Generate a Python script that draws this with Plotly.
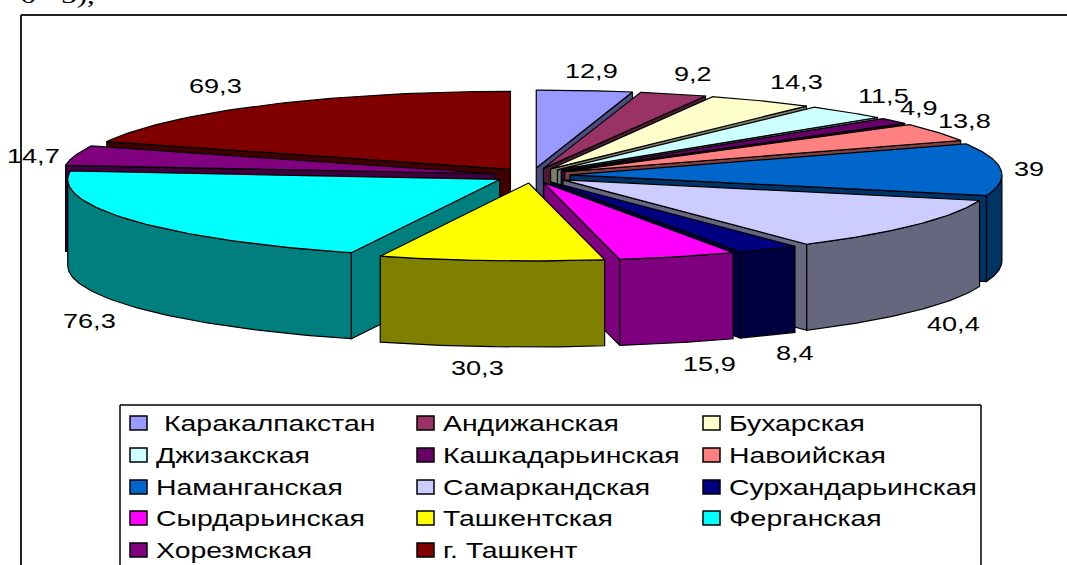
import numpy as np
import plotly.graph_objects as go

regions = ["Каракалпакстан", "Андижанская", "Бухарская", "Джизакская", "Кашкадарьинская", "Навоийская",
           "Наманганская", "Самаркандская", "Сурхандарьинская", "Сырдарьинская", "Ташкентская",
           "Ферганская", "Хорезмская", "г. Ташкент"]
values = [12.9, 9.2, 14.3, 11.5, 4.9, 13.8, 39, 40.4, 8.4, 15.9, 30.3, 76.3, 14.7, 69.3]
value_labels = ["12,9", "9,2", "14,3", "11,5", "4,9", "13,8", "39", "40,4", "8,4", "15,9", "30,3", "76,3", "14,7", "69,3"]
top_colors = ["#9999FF", "#993366", "#FFFFCC", "#CCFFFF", "#660066", "#FF8080", "#0066CC",
              "#CCCCFF", "#000080", "#FF00FF", "#FFFF00", "#00FFFF", "#800080", "#800000"]

# label anchor positions (left edge, middle), picture pixels
label_x = [563, 672, 768, 856, 898, 936, 1012, 925, 774, 681, 449, 61, 5, 187]
label_y = [70, 73, 81, 95, 107, 120, 168, 323, 352, 363, 367, 320, 155, 85]

CX, CY, RX, RY, EX, EY, DEPTH = 532, 175.5, 432, 78, 38, 7.5, 86
FONT = "Liberation Sans"


def shade(c):
    r, g, b = int(c[1:3], 16), int(c[3:5], 16), int(c[5:7], 16)
    return f"rgb({r // 2},{g // 2},{b // 2})"


fig = go.Figure()


def poly(xs, ys, color):
    fig.add_trace(go.Scatter(x=xs, y=ys, mode="lines", fill="toself", fillcolor=color,
                             line=dict(color="black", width=1.2), hoverinfo="skip", showlegend=False))


total = sum(values)
ends = np.cumsum(values) / total * 2 * np.pi
starts = np.concatenate([[0], ends[:-1]])
mids = (starts + ends) / 2

for i in np.argsort(-np.cos(mids)):
    a, b, m = starts[i], ends[i], mids[i]
    ax, ay = CX + EX * np.sin(m), CY - EY * np.cos(m)
    wall = shade(top_colors[i])
    px = lambda t: ax + RX * np.sin(t)
    py = lambda t: ay - RY * np.cos(t)
    if np.sin(a) < -1e-6:
        poly([ax, px(a), px(a), ax, ax], [ay, py(a), py(a) + DEPTH, ay + DEPTH, ay], wall)
    if np.sin(b) > 1e-6:
        poly([ax, px(b), px(b), ax, ax], [ay, py(b), py(b) + DEPTH, ay + DEPTH, ay], wall)
    lo, hi = max(a, np.pi / 2), min(b, 3 * np.pi / 2)
    if hi > lo:
        t = np.linspace(lo, hi, 60)
        poly(np.concatenate([px(t), px(t[::-1]), [px(t[0])]]),
             np.concatenate([py(t), py(t[::-1]) + DEPTH, [py(t[0])]]), wall)
    t = np.linspace(a, b, 60)
    poly(np.concatenate([[ax], px(t), [ax]]), np.concatenate([[ay], py(t), [ay]]), top_colors[i])

annotations = []
for lab, x, y in zip(value_labels, label_x, label_y):
    annotations.append(dict(x=x, y=y, text=lab, showarrow=False, xanchor="left", yanchor="middle",
                            font=dict(family=FONT, size=21, color="black")))

# bottom edge of the line of body text that the crop cuts off at the top of the picture
annotations.append(dict(xref="paper", yref="paper", x=18 / 1067, y=1 + 5 / 565, text="6 - 3),", showarrow=False,
                        xanchor="left", yanchor="middle",
                        font=dict(family="Liberation Serif", size=24, color="black")))

shapes = [
    dict(type="line", x0=21, x1=1067, y0=15, y1=15, line=dict(color="#222", width=2)),
    dict(type="line", x0=21, x1=21, y0=15, y1=565, line=dict(color="#222", width=2)),
    dict(type="line", x0=120, x1=981, y0=405, y1=405, line=dict(color="black", width=1.5)),
    dict(type="line", x0=120, x1=120, y0=405, y1=565, line=dict(color="black", width=1.5)),
    dict(type="line", x0=981, x1=981, y0=405, y1=565, line=dict(color="black", width=1.5)),
]
col_swatch = [130, 417, 703]
col_text = [154, 441, 727]
row_y = [423, 455, 487, 518, 550]
for i, (name, col) in enumerate(zip(regions, top_colors)):
    r, c = divmod(i, 3)
    shapes.append(dict(type="rect", x0=col_swatch[c], x1=col_swatch[c] + 17, y0=row_y[r] - 7, y1=row_y[r] + 7,
                       fillcolor=col, line=dict(color="black", width=1.5)))
    annotations.append(dict(x=col_text[c] + (8 if i == 0 else 0), y=row_y[r], text=name, showarrow=False,
                            xanchor="left", yanchor="middle",
                            font=dict(family=FONT, size=22, color="black")))

fig.update_layout(
    width=1067, height=565, autosize=False, margin=dict(l=0, r=0, t=0, b=0),
    paper_bgcolor="white", plot_bgcolor="white", showlegend=False,
    xaxis=dict(visible=False, range=[0, 1067], fixedrange=True),
    yaxis=dict(visible=False, range=[565, 0], fixedrange=True),
    shapes=shapes, annotations=annotations,
)

# The reference text is stretched horizontally: widen real text about its left edge.
post = """
var S = 1.29;
function stretch(){
  document.querySelectorAll('.annotation-text').forEach(function(t){
    var b = t.getBBox();
    t.setAttribute('transform','translate('+b.x+',0) scale('+S+',1) translate('+(-b.x)+',0)');
  });
}
document.body.style.margin='0';
stretch();
"""
fig.write_html("out.html", post_script=post, config={"displayModeBar": False})
